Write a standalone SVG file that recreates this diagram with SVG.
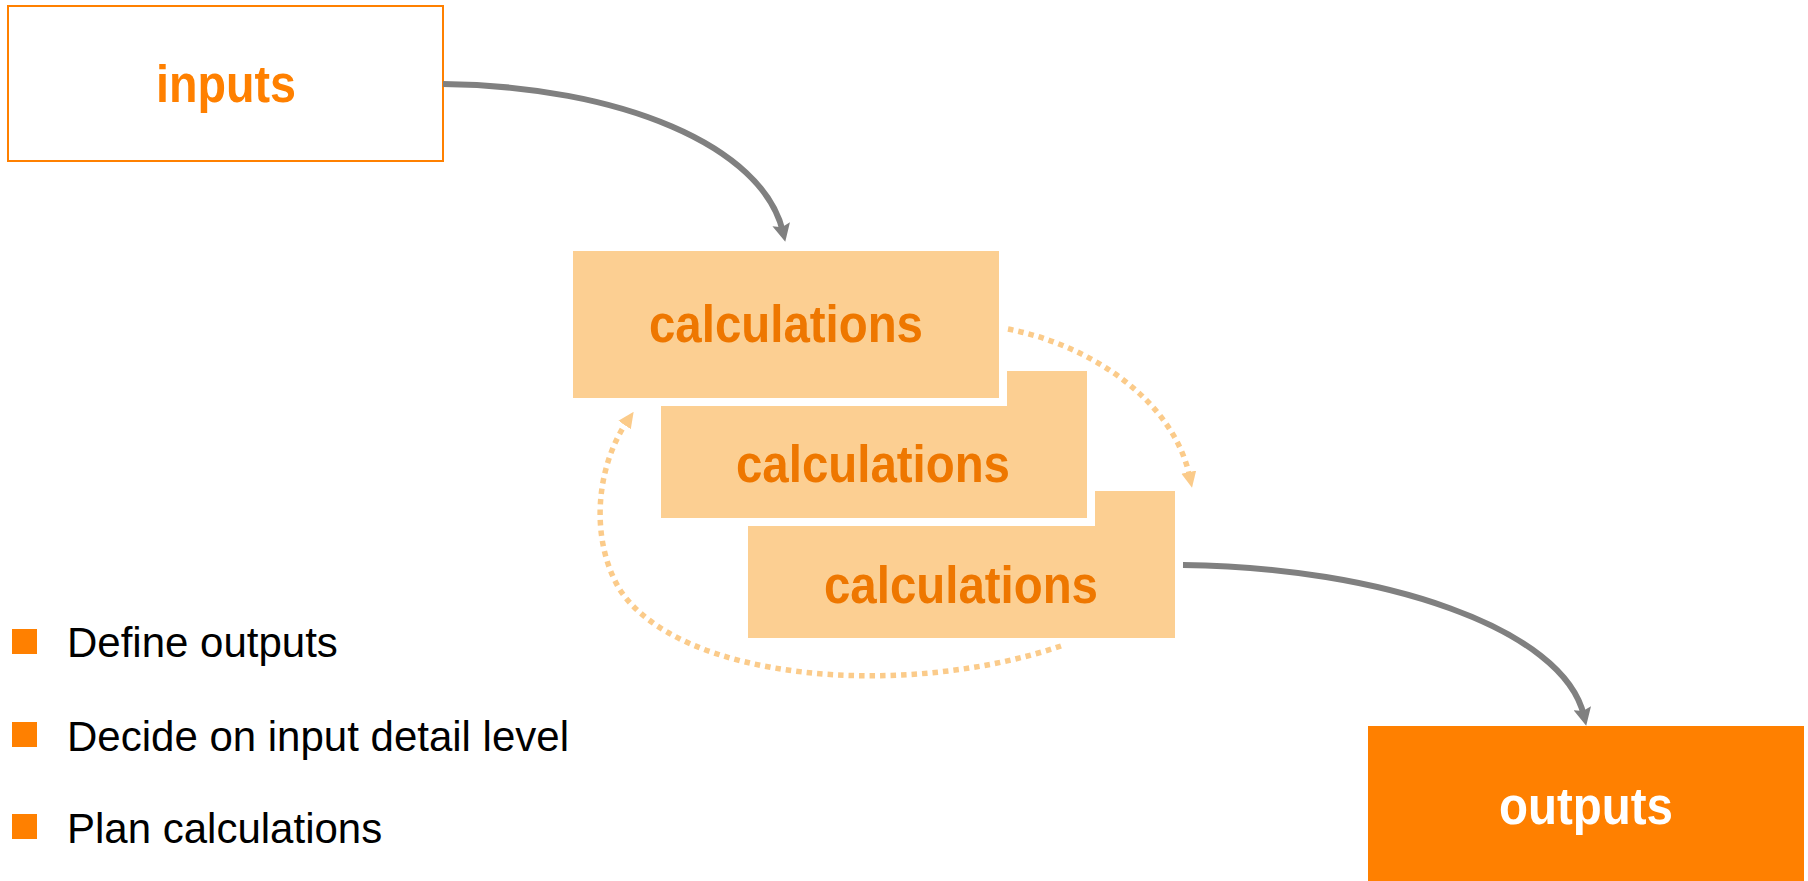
<svg xmlns="http://www.w3.org/2000/svg" width="1808" height="881" viewBox="0 0 1808 881">
<style>
.lbl{font-family:"Liberation Sans",Arial,sans-serif;font-weight:bold;font-size:51px;text-anchor:middle}
.calc{fill:#FCCF92;stroke:#FFFFFF;stroke-width:16;paint-order:stroke}
.ct{fill:#EE7700}
.bul{font-family:"Liberation Sans",Arial,sans-serif;font-size:42px;fill:#000}
.sq{fill:#FF8000}
.conn{fill:none;stroke:#808080;stroke-width:6}
.dot{fill:none;stroke:#FBCB8A;stroke-width:5.5;stroke-dasharray:5.5 5}
</style>
<defs>
<marker id="ag" markerUnits="userSpaceOnUse" viewBox="0 0 18 18" markerWidth="18" markerHeight="18" refX="8" refY="9" orient="auto"><path d="M0,0 L18,9 L0,18 L3,9 Z" fill="#808080"/></marker>
<marker id="ao" markerUnits="userSpaceOnUse" viewBox="0 0 16 16" markerWidth="16" markerHeight="16" refX="6" refY="8" orient="auto"><path d="M0,0.5 L16,8 L0,15.5 Z" fill="#FBCB8A"/></marker>
</defs>
<rect width="1808" height="881" fill="#FFFFFF"/>
<g id="inputs">
<rect x="8" y="6" width="435" height="155" fill="#FFFFFF" stroke="#FF8000" stroke-width="2"/>
<text class="lbl" x="226" y="102" fill="#FF8000" textLength="140" lengthAdjust="spacingAndGlyphs">inputs</text>
</g>
<g id="calc3">
<rect class="calc" x="748" y="491" width="427" height="147"/>
<text class="lbl ct" x="961" y="603" textLength="274" lengthAdjust="spacingAndGlyphs">calculations</text>
</g>
<g id="calc2">
<rect class="calc" x="661" y="371" width="426" height="147"/>
<text class="lbl ct" x="873" y="482" textLength="274" lengthAdjust="spacingAndGlyphs">calculations</text>
</g>
<g id="calc1">
<rect class="calc" x="573" y="251" width="426" height="147"/>
<text class="lbl ct" x="786" y="342" textLength="274" lengthAdjust="spacingAndGlyphs">calculations</text>
</g>
<g id="outputs">
<rect x="1368" y="726" width="436" height="160" fill="#FF8000"/>
<text class="lbl" x="1586" y="824" fill="#FFFFFF" textLength="174" lengthAdjust="spacingAndGlyphs">outputs</text>
</g>
<g id="bullets">
<rect class="sq" x="12" y="629" width="25" height="25"/>
<text class="bul" x="67" y="657">Define outputs</text>
<rect class="sq" x="12" y="722" width="25" height="25"/>
<text class="bul" x="67" y="751">Decide on input detail level</text>
<rect class="sq" x="12" y="814" width="25" height="25"/>
<text class="bul" x="67" y="843">Plan calculations</text>
</g>
<g id="connectors">
<path class="conn" d="M443,84 C620,86 763,146 783,232" marker-end="url(#ag)"/>
<path class="conn" d="M1183,565 C1380,567 1564,628 1584,716" marker-end="url(#ag)"/>
<path class="dot" d="M1008,329 C1090,345 1174,400 1190,478" marker-end="url(#ao)"/>
<path class="dot" d="M1061,646 C900,700 680,680 620,590 C590,540 595,468 628,420" marker-end="url(#ao)"/>
</g>
</svg>
